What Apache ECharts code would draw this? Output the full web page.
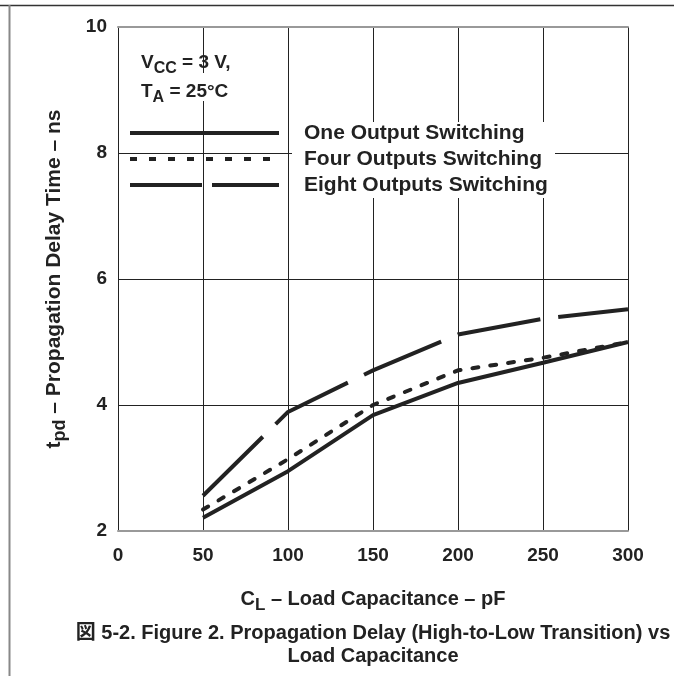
<!DOCTYPE html>
<html>
<head>
<meta charset="utf-8">
<script src="https://cdn.jsdelivr.net/npm/echarts@6/dist/echarts.min.js"></script>
<style>
html,body{margin:0;padding:0;background:#fff;}
#chart{width:674px;height:676px;}
</style>
</head>
<body>
<div id="chart"></div>
<script>
// Data
const loadCapacitance = [50, 100, 150, 200, 250, 300];           // pF
const oneOutput   = [2.21, 2.95, 3.84, 4.35, 4.67, 5.00];          // ns
const fourOutputs = [2.34, 3.14, 4.00, 4.55, 4.75, 5.00];          // ns
const eightOutputs = [2.56, 3.89, 4.55, 5.12, 5.37, 5.52];         // ns
const seriesNames = ['One Output Switching', 'Four Outputs Switching', 'Eight Outputs Switching'];
const xTicks = [0, 50, 100, 150, 200, 250, 300];
const yTicks = [2, 4, 6, 8, 10];

const FONT = '"Liberation Sans", Arial, sans-serif';
const INK = '#222222';

function pairs(ys) { return loadCapacitance.map((x, i) => [x, ys[i]]); }

const chart = echarts.init(document.getElementById('chart'), null, { renderer: 'canvas' });

function richFor(main, sub, lh, sublh) {
  const m = { fontFamily: FONT, fontWeight: 'bold', fontSize: main, color: INK, verticalAlign: 'middle', lineHeight: lh };
  const s = { fontFamily: FONT, fontWeight: 'bold', fontSize: sub, color: INK, verticalAlign: 'bottom', lineHeight: sublh };
  return Object.assign({}, m, { rich: { m: m, sub: s } });
}

const solidStyle = { color: INK, width: 4, type: 'solid' };
const dotStyle = { color: INK, width: 4, type: [6, 12], cap: 'round' };
const dashStyle = { color: INK, width: 4, type: [84, 18] };

chart.setOption({
  animation: false,
  backgroundColor: '#ffffff',
  title: [
    {
      text: 'V{sub|CC}{m| = 3 V,}\nT{sub|A}{m| = 25°C}',
      left: 141, top: 48, padding: 0,
      textStyle: richFor(19, 16, 24, 29)
    },
    {
      text: '図 5-2. Figure 2. Propagation Delay (High-to-Low Transition) vs\nLoad Capacitance',
      left: 373, top: 622, textAlign: 'center', padding: 0,
      textStyle: { fontFamily: '"Liberation Sans", Arial, "Noto Sans CJK JP", sans-serif', fontWeight: 'bold', fontSize: 20, color: INK, lineHeight: 23 }
    }
  ],
  legend: {
    orient: 'vertical',
    left: 128, top: 122, padding: 0,
    itemWidth: 149, itemHeight: 14, itemGap: 4,
    itemStyle: { opacity: 0, borderWidth: 0 },
    data: [
      { name: seriesNames[0], lineStyle: { width: 4, type: 'solid' } },
      { name: seriesNames[1], lineStyle: { width: 4, type: [7, 12], cap: 'butt' } },
      { name: seriesNames[2], lineStyle: { width: 4, type: [72, 10] } }
    ],
    textStyle: { fontFamily: FONT, fontWeight: 'bold', fontSize: 21, color: INK, lineHeight: 22, padding: [0, 0, 0, 20] }
  },
  grid: { left: 118, right: 46, top: 27, bottom: 145, show: false },
  xAxis: [
    {
      type: 'value', min: 0, max: 300, interval: 50,
      name: 'C{sub|L}{m| – Load Capacitance – pF}',
      nameLocation: 'middle', nameGap: 68,
      nameTextStyle: richFor(20, 17, 24, 30),
      axisLine: { show: true, onZero: false, lineStyle: { color: '#999999', width: 2 } },
      axisTick: { show: false },
      axisLabel: { fontFamily: FONT, fontWeight: 'bold', fontSize: 19, color: INK, margin: 15,
        formatter: v => xTicks.includes(v) ? String(v) : '' },
      splitLine: { show: true, lineStyle: { color: INK, width: 1 } }
    },
    {
      type: 'value', min: 0, max: 300, interval: 50, position: 'top',
      axisLine: { show: true, lineStyle: { color: '#999999', width: 2 } },
      axisTick: { show: false }, axisLabel: { show: false }, splitLine: { show: false }
    }
  ],
  yAxis: {
    type: 'value', min: 2, max: 10, interval: 2,
    name: 't{sub|pd}{m| – Propagation Delay Time – ns}',
    nameLocation: 'middle', nameGap: 64, nameRotate: 90,
    nameTextStyle: richFor(21, 18, 24, 31),
    axisLine: { show: true, lineStyle: { color: INK, width: 1 } },
    axisTick: { show: false },
    axisLabel: { fontFamily: FONT, fontWeight: 'bold', fontSize: 19, color: INK, margin: 11,
      formatter: v => yTicks.includes(v) ? String(v) : '' },
    splitLine: { show: true, lineStyle: { color: INK, width: 1 } }
  },
  series: [
    { name: seriesNames[0], type: 'line', data: pairs(oneOutput), symbol: 'none', color: INK, lineStyle: solidStyle },
    { name: seriesNames[1], type: 'line', data: pairs(fourOutputs), symbol: 'none', color: INK, lineStyle: dotStyle },
    { name: seriesNames[2], type: 'line', data: pairs(eightOutputs), symbol: 'none', color: INK, lineStyle: dashStyle }
  ],
  graphic: [
    { type: 'line', shape: { x1: 0, y1: 5.5, x2: 674, y2: 5.5 }, style: { stroke: '#333333', lineWidth: 1.5 }, silent: true },
    { type: 'line', shape: { x1: 9.5, y1: 5, x2: 9.5, y2: 676 }, style: { stroke: '#888888', lineWidth: 2 }, silent: true },
    // white boxes behind the legend text and the condition note (grid lines are masked there in the reference)
    { type: 'rect', z: 1, shape: { x: 292, y: 122, width: 263, height: 76 }, style: { fill: '#ffffff' }, silent: true },
    { type: 'rect', z: 1, shape: { x: 138, y: 73, width: 112, height: 28 }, style: { fill: '#ffffff' }, silent: true }
  ]
});
</script>
</body>
</html>
